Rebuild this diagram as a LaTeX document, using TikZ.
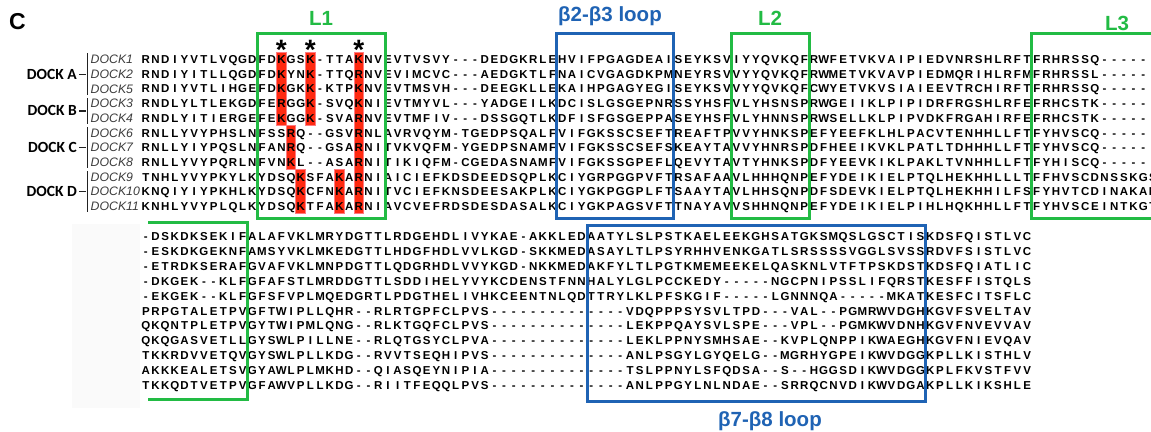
\documentclass[tikz,border=0pt]{standalone}
\usepackage{fontspec}
\setmainfont{Liberation Sans}
\newfontfamily\grpfont{Carlito}

\definecolor{boxgreen}{HTML}{22BB44}
\definecolor{boxblue}{HTML}{1F63B4}
\definecolor{hlred}{HTML}{FF2A10}
\definecolor{hledge}{HTML}{FF7A80}
\definecolor{namegray}{HTML}{3C3C3C}
\definecolor{bracketgray}{HTML}{222222}
\definecolor{panelgray}{HTML}{FAFAFA}

% one residue per fixed-width column
\newlength\colw \setlength\colw{9.684pt}
\def\cells#1{\cellsloop#1\relax}
\def\cellsloop#1{\ifx\relax#1\else\makebox[\colw][c]{#1}\expandafter\cellsloop\fi}

\begin{document}
\begin{tikzpicture}[x=1pt, y=-1pt,
  seq/.style={inner sep=0pt, anchor=west, font=\fontsize{11.5}{12}\selectfont\bfseries,
              text height=8.3pt, text depth=0pt},
  seqname/.style={inner sep=0pt, anchor=west, font=\fontsize{12.3}{13}\selectfont\itshape,
              text=namegray, text height=8.8pt, text depth=0pt},
  grp/.style={inner sep=0pt, anchor=east, font=\grpfont\fontsize{15.5}{16}\selectfont\bfseries,
              text height=10pt, text depth=0pt},
  bracket/.style={draw=bracketgray, line width=1.2pt},
  greenbox/.style={draw=boxgreen, line width=3pt},
  bluebox/.style={draw=boxblue, line width=3pt},
  title/.style={inner sep=0pt, anchor=base, font=\fontsize{20.5}{22}\selectfont\bfseries},
  star/.style={inner sep=0pt, anchor=base, font=\fontsize{28}{28}\selectfont\bfseries},
  hl/.style={fill=hlred, draw=hledge, line width=0.8pt},
]
\useasboundingbox (0,0) rectangle (1151,431);
\fill[white] (0,0) rectangle (1151,431);
\fill[panelgray] (71.7,224) rectangle (140,408);

% conserved basic residues
\path[hl] (276.4,52.2) rectangle (286.1,125.5);
\path[hl] (286.1,125.5) rectangle (295.7,169.5);
\path[hl] (295.7,169.5) rectangle (305.4,213.5);
\path[hl] (305.4,52.2) rectangle (315.1,125.5);
\path[hl] (334.5,169.5) rectangle (344.2,213.5);
\path[hl] (353.9,52.2) rectangle (363.5,213.5);

% panel letter and loop labels
\node[title, anchor=base west, font=\fontsize{23}{24}\selectfont\bfseries] (panel) at (9,29) {C};
\node[title, text=boxgreen] (lab1) at (321,25) {L1};
\node[title, text=boxblue] (labb23) at (610,21.7) {β2-β3 loop};
\node[title, text=boxgreen] (lab2) at (770,25) {L2};
\node[title, text=boxgreen] (lab3) at (1117,30) {L3};
\node[title, text=boxblue] (labb78) at (770,426) {β7-β8 loop};

\node[star] (st1) at (281.2,59) {*};
\node[star] (st2) at (310.3,59) {*};
\node[star] (st3) at (358.7,59) {*};

% family groups
\node[grp] (ga) at (77,74.2) {DOCK A};
\node[grp] (gb) at (77,110.9) {DOCK B};
\node[grp] (gc) at (77,147.5) {DOCK C};
\node[grp] (gd) at (77,191.5) {DOCK D};
\draw[bracket] (79,74.2) -- (86,74.2) (87.5,53) -- (87.5,95);
\draw[bracket] (79,110.9) -- (86,110.9) (87.5,98) -- (87.5,124);
\draw[bracket] (79,147.5) -- (86,147.5) (87.5,127) -- (87.5,168);
\draw[bracket] (79,191.5) -- (86,191.5) (87.5,171) -- (87.5,212);

% member names
\node[seqname] (n1) at (90.5,59.5) {DOCK1};
\node[seqname] (n2) at (90.5,74.2) {DOCK2};
\node[seqname] (n5) at (90.5,88.8) {DOCK5};
\node[seqname] (n3) at (90.5,103.5) {DOCK3};
\node[seqname] (n4) at (90.5,118.2) {DOCK4};
\node[seqname] (n6) at (90.5,132.9) {DOCK6};
\node[seqname] (n7) at (90.5,147.5) {DOCK7};
\node[seqname] (n8) at (90.5,162.2) {DOCK8};
\node[seqname] (n9) at (90.5,176.9) {DOCK9};
\node[seqname] (n10) at (90.5,191.5) {DOCK10};
\node[seqname] (n11) at (90.5,206.2) {DOCK11};

% first alignment block
\node[seq] (a1) at (140.8,59.5) {\cells{RNDIYVTLVQGD FDKGSK-TTAKNVE VTVSVY---DEDGKRLE HVIFPGAGDEAI SEYKSV IYYQVKQF RWFETVKVAIPIEDVNRSHLRFT FRHRSSQ------}};
\node[seq] (a2) at (140.8,74.2) {\cells{RNDIYITLLQGD FDKYNK-TTQRNVE VIMCVC---AEDGKTLF NAICVGAGDKPM NEYRSV VYYQVKQF RWMETVKVAVPIEDMQRIHLRFM FRHRSSL------}};
\node[seq] (a5) at (140.8,88.8) {\cells{RNDIYVTLIHGE FDKGKK-KTPKNVE VTMSVH---DEEGKLLE KAIHPGAGYEGI SEYKSV VYYQVKQF CWYETVKVSIAIEEVTRCHIRFT FRHRSSQ------}};
\node[seq] (a3) at (140.8,103.5) {\cells{RNDLYLTLEKGD FERGGK-SVQKNIE VTMYVL---YADGEILK DCISLGSGEPNR SSYHSF VLYHSNSP RWGEIIKLPIPIDRFRGSHLRFE FRHCSTK------}};
\node[seq] (a4) at (140.8,118.2) {\cells{RNDLYITIERGE FEKGGK-SVARNVE VTMFIV---DSSGQTLK DFISFGSGEPPA SEYHSF VLYHNNSP RWSELLKLPIPVDKFRGAHIRFE FRHCSTK------}};
\node[seq] (a6) at (140.8,132.9) {\cells{RNLLYVYPHSLN FSSRQ--GSVRNLA VRVQYM-TGEDPSQALF VIFGKSSCSEFT REAFTP VVYHNKSP EFYEEFKLHLPACVTENHHLLFT FYHVSCQ------}};
\node[seq] (a7) at (140.8,147.5) {\cells{RNLLYIYPQSLN FANRQ--GSARNIT VKVQFM-YGEDPSNAMF VIFGKSSCSEFS KEAYTA VVYHNRSP DFHEEIKVKLPATLTDHHHLLFT FYHVSCQ------}};
\node[seq] (a8) at (140.8,162.2) {\cells{RNLLYVYPQRLN FVNKL--ASARNIT IKIQFM-CGEDASNAMF VIFGKSSGPEFL QEVYTA VTYHNKSP DFYEEVKIKLPAKLTVNHHLLFT FYHISCQ------}};
\node[seq] (a9) at (140.8,176.9) {\cells{TNHLYVYPKYLK YDSQKSFAKARNIA ICIEFKDSDEEDSQPLK CIYGRPGGPVFT RSAFAA VLHHHQNP EFYDEIKIELPTQLHEKHHLLLT FFHVSCDNSSKGS}};
\node[seq] (a10) at (140.8,191.5) {\cells{KNQIYIYPKHLK YDSQKCFNKARNIT VCIEFKNSDEESAKPLK CIYGKPGGPLFT SAAYTA VLHHSQNP DFSDEVKIELPTQLHEKHHILFS FYHVTCDINAKAN}};
\node[seq] (a11) at (140.8,206.2) {\cells{KNHLYVYPLQLK YDSQKTFAKARNIA VCVEFRDSDESDASALK CIYGKPAGSVFT TNAYAV VSHHNQNP EFYDEIKIELPIHLHQKHHLLFT FYHVSCEINTKGT}};

% second alignment block
\node[seq] (b1) at (140.8,236.7) {\cells{-DSKDKSEKIF ALAFVKLMRYDGTTLRDGEHDLIVYKAE-AKKLED AATYLSLPSTKAELEEKGHSATGKSMQSLGSCTIS KDSFQISTLVC}};
\node[seq] (b2) at (140.8,251.5) {\cells{-ESKDKGEKNF AMSYVKLMKEDGTTLHDGFHDLVVLKGD-SKKMED ASAYLTLPSYRHHVENKGATLSRSSSSVGGLSVSS RDVFSISTLVC}};
\node[seq] (b3) at (140.8,266.4) {\cells{-ETRDKSERAF GVAFVKLMNPDGTTLQDGRHDLVVYKGD-NKKMED AKFYLTLPGTKMEMEEKELQASKNLVTFTPSKDST KDSFQIATLIC}};
\node[seq] (b4) at (140.8,281.2) {\cells{-DKGEK--KLF GFAFSTLMRDDGTTLSDDIHELYVYKCDENSTFNN HALYLGLPCCKEDY-----NGCPNIPSSLIFQRST KESFFISTQLS}};
\node[seq] (b5) at (140.8,296.0) {\cells{-EKGEK--KLF GFSFVPLMQEDGRTLPDGTHELIVHKCEENTNLQD TTRYLKLPFSKGIF-----LGNNNQA-----MKAT KESFCITSFLC}};
\node[seq] (b6) at (140.8,310.9) {\cells{PRPGTALETPV GFTWIPLLQHR--RLRTGPFCLPVS---------- ----VDQPPPSYSVLTPD---VAL--PGMRWVDGH KGVFSVELTAV}};
\node[seq] (b7) at (140.8,325.7) {\cells{QKQNTPLETPV GYTWIPMLQNG--RLKTGQFCLPVS---------- ----LEKPPQAYSVLSPE---VPL--PGMKWVDNH KGVFNVEVVAV}};
\node[seq] (b8) at (140.8,340.5) {\cells{QKQGASVETLL GYSWLPILLNE--RLQTGSYCLPVA---------- ----LEKLPPNYSMHSAE--KVPLQNPPIKWAEGH KGVFNIEVQAV}};
\node[seq] (b9) at (140.8,355.3) {\cells{TKKRDVVETQV GYSWLPLLKDG--RVVTSEQHIPVS---------- ----ANLPSGYLGYQELG--MGRHYGPEIKWVDGG KPLLKISTHLV}};
\node[seq] (b10) at (140.8,370.2) {\cells{AKKKEALETSV GYAWLPLMKHD--QIASQEYNIPIA---------- ----TSLPPNYLSFQDSA--S--HGGSDIKWVDGG KPLFKVSTFVV}};
\node[seq] (b11) at (140.8,385.0) {\cells{TKKQDTVETPV GFAWVPLLKDG--RIITFEQQLPVS---------- ----ANLPPGYLNLNDAE--SRRQCNVDIKWVDGA KPLLKIKSHLE}};

% loop frames
\draw[greenbox] (257,33) rectangle (385,218);
\draw[bluebox] (556,33) rectangle (673,218);
\draw[greenbox] (731.7,33) rectangle (809,218);
\draw[greenbox] (1160,33) -- (1031.7,33) -- (1031.7,218) -- (1160,218);
\draw[greenbox] (148,222) -- (247.3,222) -- (247.3,399) -- (148,399);
\draw[bluebox] (587.7,225) rectangle (925,401.7);
\end{tikzpicture}
\end{document}
